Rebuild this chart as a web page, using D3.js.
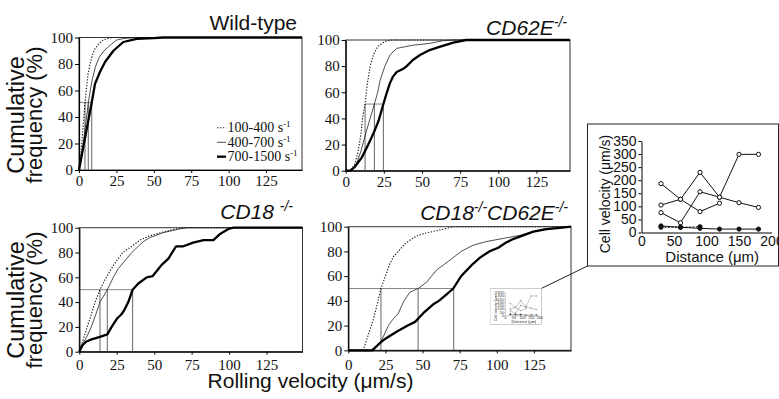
<!DOCTYPE html>
<html><head><meta charset="utf-8">
<script src="https://cdn.jsdelivr.net/npm/d3@7"></script>
<style>body{margin:0;background:#fff}svg{display:block}</style>
</head><body>
<svg id="c" width="779" height="399"></svg>
<script>
// ---------- data ----------
const xTicks = [0, 25, 50, 75, 100, 125];
const yTicks = [0, 20, 40, 60, 80, 100];
const legendLabels = ["100-400 s", "400-700 s", "700-1500 s"];

// Wild-type: [velocity, cumulative %]
const wt100 = [[0,0],[1,10],[2,22],[3,37],[4,50],[5,62],[6,72],[7.4,80],[9,87],[10.7,91.6],[13,95],[16,98],[20,99.5],[23,100],[149,100]];
const wt400 = [[0,0],[1.5,10],[3,22],[4.5,35],[6.2,50],[7.5,60],[9,69],[11,78],[13.5,85],[16,89],[19.6,93],[25,98],[30,99.3],[40,100],[149,100]];
const wt700 = [[0,0],[2,12],[4,24],[6,36],[8.5,51],[10.7,65],[14,74],[17.4,81.5],[23,90],[29.6,96.6],[38.6,99],[50,99.5],[56,100],[149,100]];
const wtMedians = [4, 6.2, 8.5];

// CD62E-/-
const e100 = [[0,0],[3,0],[6,5],[8,14],[10,28],[11,40],[12.7,51],[14,65],[16,80],[18,88],[20,93],[22,96],[25,98.5],[29,100],[147,100]];
const e400 = [[0,0],[4,0],[7,5],[10,15],[13,28],[16,40],[18.8,51],[21,60],[22.5,69],[25.7,80],[29,88.5],[33.4,93.6],[44,96],[55,97.4],[64,99.5],[70,100],[147,100]];
const e700 = [[0,0],[3,0],[6,3],[10.5,10],[14.8,20],[18,28],[21.5,38],[24.7,51],[27,60],[29,67],[31,72],[33.4,75.5],[37.8,78],[40,80],[44,84.7],[48.7,88.5],[55,92.3],[62,95],[70.5,98],[79,100],[147,100]];
const eMedians = [12.7, 18.8, 24.7];

// CD18-/-
const c100 = [[0,0],[2.7,10],[5.3,20],[8,30],[10.5,40],[13.8,50],[18,60],[23,70],[29,80],[35,85],[40.5,90],[46,93],[51.7,95],[60.6,98],[69.5,100],[149,100]];
const c400 = [[0,0],[1.5,5],[5,12],[8,20],[11,30],[13.8,40],[18.7,50],[22.7,60],[26,67],[31.6,75],[35,80],[39.4,85],[43,89],[47,92],[56,96],[67,99],[72,100],[149,100]];
const c700 = [[0,0],[2,5],[4.5,8],[8.2,10],[13.8,12],[18.7,14],[21.6,20],[25.4,27],[28,30],[29.8,33],[32.7,40],[35.6,50],[39.4,55],[45,60],[49,61],[51.7,65],[55,70],[59.5,75],[62,80],[64.6,85],[69.5,85],[76,88],[83,90],[89.5,90],[94,95],[99.5,99],[103,100],[149,100]];
const cMedians = [13.8, 18.7, 35.6];

// CD18-/-CD62E-/-
const ce100 = [[0,0],[10,0],[12.8,10],[15,18],[18,30],[20,40],[22,50],[25,60],[28,70],[30.5,76],[33.7,80],[38,86],[42.6,90],[47,93],[52.7,95],[64,98],[70.7,100],[150,100]];
const ce400 = [[0,0],[17,0],[22.4,8],[27,20],[30,25],[33.7,30],[37.5,40],[41.5,47],[47,50],[52.7,55],[59.5,65],[68.5,73],[76,80],[84,85],[93,88],[106.6,91],[115.6,93],[124.6,96],[131,98],[140,99],[147,100],[150,100]];
const ce700 = [[0,0],[16,0],[22.4,7],[25.8,10],[32.5,15],[40,20],[45,23],[50.5,30],[57,37],[61,40],[66,45],[70.7,50],[76,60],[84,70],[88.7,75],[95,80],[101,83],[106,87],[111,90],[117.8,93],[124.6,96],[133.6,98],[142.5,99],[150,100]];
const ceMedians = [22, 47, 71];

// Inset: cell velocity vs distance
const insetDistance = [30, 60, 90, 120, 150, 180];
const insetOpen1 = [187, 127, 80, 112];
const insetOpen2 = [105, 127, 230, 135, 299, 299];
const insetOpen3 = [76, 37, 156, 135, 114, 96];
const insetFilled1 = [25, 20, 16, 13, 13, 13];
const insetFilled2 = [20, 20, 22];
const insetXTicks = [0, 50, 100, 150, 200];
const insetYTicks = [0, 50, 100, 150, 200, 250, 300, 350];

// ---------- drawing ----------
const svg = d3.select("#c");
const SERIF = "'Liberation Serif','Times New Roman',Times,serif";
const SANS = "'Liberation Sans',Arial,Helvetica,sans-serif";
const styles = [
  {stroke:"#111","stroke-width":1.1,"stroke-dasharray":"1.3,1.6"},
  {stroke:"#222","stroke-width":0.8},
  {stroke:"#000","stroke-width":2.3}
];

const panels = [
  {left:79, right:302, top:37.5, bottom:170, xMax:149, pad:2.5, series:[wt100,wt400,wt700], medians:wtMedians, medLevel:51, hFrom:0,
   title:[["Wild-type",0]], italic:false, titleX:297, titleY:30},
  {left:345.7, right:570, top:40, bottom:170.7, xMax:147, pad:3, series:[e100,e400,e700], medians:eMedians, medLevel:51, hFrom:12.7,
   title:[["CD62E",0],["-/-",1]], italic:true, titleX:567, titleY:35},
  {left:79.3, right:302.5, top:227.7, bottom:351.7, xMax:149, pad:5, series:[c100,c400,c700], medians:cMedians, medLevel:50, hFrom:0,
   title:[["CD18 ",0],["-/-",1]], italic:true, titleX:293, titleY:218.5},
  {left:348.3, right:571, top:226.7, bottom:350.3, xMax:150, pad:6, series:[ce100,ce400,ce700], medians:ceMedians, medLevel:50, hFrom:0,
   title:[["CD18",0],["-/-",1],["CD62E",0],["-/-",1]], italic:true, titleX:568, titleY:220}
];

panels.forEach(p => {
  const g = svg.append("g");
  const x = d3.scaleLinear().domain([0, p.xMax]).range([p.left, p.right]);
  const y = d3.scaleLinear().domain([0, 100]).range([p.bottom, p.top]);
  g.append("rect").attr("x", p.left).attr("y", p.top)
    .attr("width", p.right - p.left).attr("height", p.bottom - p.top)
    .attr("fill", "none").attr("stroke", "#333").attr("stroke-width", 1);
  // median guides
  g.append("line").attr("x1", x(p.hFrom)).attr("x2", x(d3.max(p.medians)))
    .attr("y1", y(p.medLevel)).attr("y2", y(p.medLevel))
    .attr("stroke", "#888").attr("stroke-width", 1);
  p.medians.forEach(m => g.append("line").attr("x1", x(m)).attr("x2", x(m))
    .attr("y1", y(0)).attr("y2", y(p.medLevel)).attr("stroke", "#555").attr("stroke-width", 0.9));
  // curves
  const line = d3.line().x(d => x(d[0])).y(d => y(d[1]));
  p.series.forEach((s, i) => {
    const path = g.append("path").attr("d", line(s)).attr("fill", "none")
      .attr("stroke-linejoin", "round");
    Object.entries(styles[i]).forEach(([k, v]) => path.attr(k, v));
  });
  // axes
  const ya = g.append("g").attr("transform", `translate(${p.left},0)`)
    .call(d3.axisLeft(y).tickValues(yTicks).tickSize(4).tickSizeOuter(0).tickPadding(2));
  const xa = g.append("g").attr("transform", `translate(0,${p.bottom})`)
    .call(d3.axisBottom(x).tickValues(xTicks).tickSize(3).tickSizeOuter(0).tickPadding(p.pad));
  [ya, xa].forEach(a => {
    a.select(".domain").attr("stroke", "#000").attr("stroke-width", 1.2);
    a.selectAll(".tick line").attr("stroke", "#000");
    a.selectAll("text").attr("font-family", SERIF).attr("font-size", 15).attr("fill", "#111");
  });
  // title
  const t = svg.append("text").attr("x", p.titleX).attr("y", p.titleY)
    .attr("text-anchor", "end").attr("font-family", SANS).attr("font-size", 21)
    .attr("font-style", p.italic ? "italic" : "normal").attr("fill", "#111");
  let up = false;
  p.title.forEach(([txt, sup]) => {
    const ts = t.append("tspan").text(txt);
    if (sup && !up) { ts.attr("dy", -8).attr("font-size", 14); up = true; }
    else if (sup) { ts.attr("font-size", 14); }
    else if (!sup && up) { ts.attr("dy", 8); up = false; }
  });
});

// legend (wild-type panel)
const legY = [127.7, 142.3, 156.7];
legendLabels.forEach((lab, i) => {
  const l = svg.append("line").attr("x1", 217).attr("x2", 226).attr("y1", legY[i]).attr("y2", legY[i]);
  Object.entries(styles[i]).forEach(([k, v]) => l.attr(k, v));
  const t = svg.append("text").attr("x", 227.5).attr("y", legY[i] + 4.5)
    .attr("font-family", SERIF).attr("font-size", 14).attr("fill", "#111");
  t.append("tspan").text(lab);
  t.append("tspan").text("-1").attr("font-size", 9).attr("dy", -5);
});

// y-axis labels
[115, 300].forEach(cy => {
  [["Cumulative", 24, 23.5], ["frequency (%)", 41.5, 22]].forEach(([txt, bx, fs]) => {
    svg.append("text").attr("transform", `translate(${bx},${cy}) rotate(-90)`)
      .attr("text-anchor", "middle").attr("font-family", SANS).attr("font-size", fs)
      .attr("fill", "#111").text(txt);
  });
});
// x-axis label
svg.append("text").attr("x", 310.5).attr("y", 388).attr("text-anchor", "middle")
  .attr("font-family", SANS).attr("font-size", 21).attr("fill", "#111")
  .text("Rolling velocity (\u03bcm/s)");

// inset
function drawInset(g) {
  g.append("rect").attr("x", 0).attr("y", 0).attr("width", 191).attr("height", 142)
    .attr("fill", "#fff").attr("stroke", "#222").attr("stroke-width", 1);
  const x = d3.scaleLinear().domain([0, 200]).range([54, 184]);
  const y = d3.scaleLinear().domain([0, 350]).range([108.5, 17]);
  const ya = g.append("g").attr("transform", "translate(54,0)")
    .call(d3.axisLeft(y).tickValues(insetYTicks).tickSize(3).tickSizeOuter(0).tickPadding(2));
  const xa = g.append("g").attr("transform", "translate(0,108.5)")
    .call(d3.axisBottom(x).tickValues(insetXTicks).tickSize(0).tickSizeOuter(0).tickPadding(4));
  [ya, xa].forEach(a => {
    a.select(".domain").attr("stroke", "#000").attr("stroke-width", 1);
    a.selectAll(".tick line").attr("stroke", "#000");
    a.selectAll("text").attr("font-family", SANS).attr("font-size", 14).attr("fill", "#111");
  });
  const line = d3.line().x((d, i) => x(insetDistance[i])).y(d => y(d));
  const sets = [
    [insetOpen1, false, null], [insetOpen2, false, null], [insetOpen3, false, null],
    [insetFilled1, true, null], [insetFilled2, true, "2,1.5"]
  ];
  sets.forEach(([vals, filled, dash]) => {
    g.append("path").attr("d", line(vals)).attr("fill", "none").attr("stroke", "#111")
      .attr("stroke-width", 1).attr("stroke-dasharray", dash);
  });
  sets.forEach(([vals, filled]) => {
    g.selectAll(null).data(vals).enter().append("circle")
      .attr("cx", (d, i) => x(insetDistance[i])).attr("cy", d => y(d)).attr("r", 2.1)
      .attr("fill", filled ? "#111" : "#fff").attr("stroke", "#111").attr("stroke-width", 1);
  });
  g.append("text").attr("transform", "translate(22.5,70) rotate(-90)")
    .attr("text-anchor", "middle").attr("font-family", SANS).attr("font-size", 14)
    .attr("fill", "#111").text("Cell velocity (\u03bcm/s)");
  g.append("text").attr("x", 124.7).attr("y", 137.7).attr("text-anchor", "middle")
    .attr("font-family", SANS).attr("font-size", 15).attr("fill", "#111").text("Distance (\u03bcm)");
}
// connector
svg.append("line").attr("x1", 541.7).attr("y1", 288.3).attr("x2", 587.5).attr("y2", 266)
  .attr("stroke", "#222").attr("stroke-width", 1);
drawInset(svg.append("g").attr("transform", "translate(587.5,124)"));
drawInset(svg.append("g").attr("transform", "translate(490.7,288.3) scale(0.267,0.2535)").attr("opacity", 0.9));
</script>
</body></html>
